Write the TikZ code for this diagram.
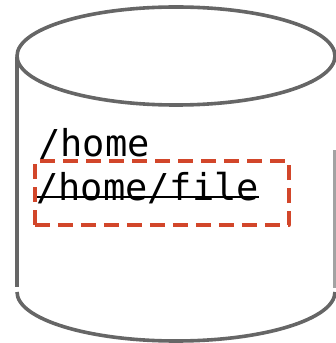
\documentclass[tikz,border=0pt]{standalone}
\usepackage{fontspec}
\newfontfamily\monofont{DejaVu Sans Mono}
\definecolor{cylgray}{HTML}{666666}
\definecolor{boxred}{HTML}{D2462A}
\begin{document}
\begin{tikzpicture}[x=1pt,y=1pt,
  cyl/.style={draw=cylgray,line width=3.6pt},
  pathtext/.style={anchor=base west,inner sep=0pt,font=\monofont\fontsize{37}{42}\selectfont},
  hilite/.style={draw=boxred,line width=3.6pt,dash pattern=on 15pt off 8pt,line join=round}]
\useasboundingbox (0,0) rectangle (336,343);
\begin{scope}
\clip (0,0) rectangle (336,343);
% top ellipse
\draw[cyl] (176,287) ellipse [x radius=159, y radius=49];
% side lines
\draw[cyl] (17,286) -- (17,56);
\draw[cyl,draw opacity=0.6] (335,193) -- (335,55);
% bottom arc
\draw[cyl] (17,51) arc [start angle=180, end angle=360, x radius=159, y radius=49];
\end{scope}
% texts
\node[pathtext] (home) at (38,186) {/home};
\node[pathtext] (file) at (36,142) {/home/file};
\draw[black,line width=2.2pt] ([yshift=4pt]file.base west) -- ([yshift=4pt]file.base east);
% dashed box
\node[hilite,minimum width=254pt,minimum height=64pt,anchor=south west] (box) at (33,116) {};
\end{tikzpicture}
\end{document}
